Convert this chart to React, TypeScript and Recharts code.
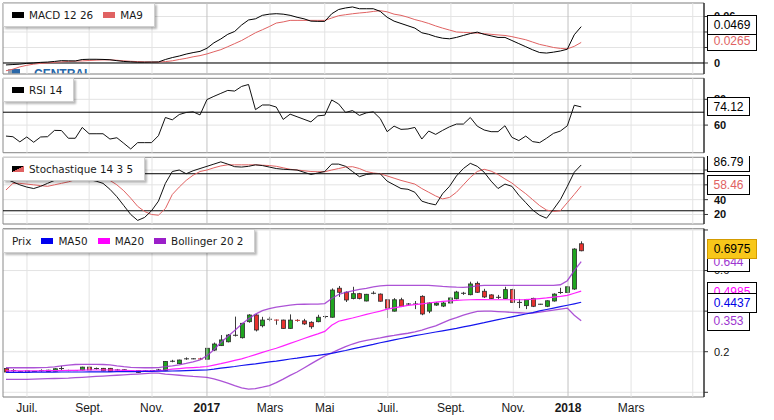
import React from 'react';
import { ComposedChart, Line, Bar, XAxis, YAxis, ReferenceLine, ReferenceArea, CartesianGrid } from 'recharts';

const FONT = '"Liberation Sans", Arial, Helvetica, sans-serif';
const LEGEND_FONT = '"DejaVu Sans", Verdana, sans-serif';
const CHART_W = 774;
const AXIS_W = 70;

// weekly candles, x = week number (0 .. 83)
const weekIndex: number[] = Array.from({ length: 84 }, (_, i) => i);

// month ticks (in week units) and their labels
const monthTicks = [3.03, 12.0, 21.07, 29.0, 38.1, 46.0, 55.1, 64.2, 73.2, 81.1, 90.2, 99.1];
const monthLabels = ['Juil.', 'Sept.', 'Nov.', '2017', 'Mars', 'Mai', 'Juil.', 'Sept.', 'Nov.', '2018', 'Mars', ''];
const yearTicks = [29.0, 81.1];
const xDomain: [number, number] = [-0.43, 100.72];

// ---- MACD 12 26 / MA9
const macdLine = [
  -0.0025, -0.002, -0.0015, -0.0005, 0, 0.0008, 0.0012, 0.002, 0.003, 0.0028,
  0.0026, 0.0045, 0.0048, 0.0048, 0.0046, 0.0042, 0.003, 0.002, 0.0015, 0.001,
  0.001, 0.0012, 0.0013, 0.0045, 0.007, 0.009, 0.0115, 0.0134, 0.015, 0.019,
  0.026, 0.031, 0.037, 0.0407, 0.049, 0.0555, 0.057, 0.0615, 0.063, 0.0636,
  0.063, 0.0615, 0.059, 0.057, 0.054, 0.0537, 0.0537, 0.0635, 0.069, 0.071,
  0.0723, 0.07, 0.07, 0.07, 0.0666, 0.059, 0.054, 0.051, 0.048, 0.045,
  0.039, 0.037, 0.034, 0.032, 0.0312, 0.033, 0.0355, 0.038, 0.0398, 0.037,
  0.035, 0.033, 0.033, 0.029, 0.025, 0.021, 0.017, 0.0135, 0.0128, 0.014,
  0.0155, 0.0178, 0.0364, 0.0469,
];
const macdSignal = [
  -0.01, -0.008, -0.005, -0.003, -0.0015, -0.0005, 0, 0.0008, 0.0015, 0.002,
  0.0024, 0.0027, 0.0032, 0.0037, 0.004, 0.004, 0.0035, 0.0028, 0.0022, 0.0018,
  0.0015, 0.0013, 0.0013, 0.0018, 0.0028, 0.0045, 0.006, 0.008, 0.0095, 0.0117,
  0.0145, 0.0172, 0.021, 0.025, 0.029, 0.034, 0.039, 0.0429, 0.047, 0.0515,
  0.053, 0.055, 0.055, 0.055, 0.055, 0.055, 0.055, 0.058, 0.061, 0.0623,
  0.0635, 0.0645, 0.0653, 0.0665, 0.0675, 0.066, 0.063, 0.0615, 0.059, 0.056,
  0.0537, 0.051, 0.0478, 0.045, 0.0425, 0.04, 0.0395, 0.039, 0.0385, 0.0378,
  0.037, 0.0362, 0.0355, 0.034, 0.032, 0.03, 0.027, 0.024, 0.0221, 0.02,
  0.0188, 0.0182, 0.0215, 0.0265,
];

// ---- RSI 14
const rsi14 = [
  51.5, 51, 47, 50.8, 46.7, 50.8, 51, 55.9, 55.8, 49.8,
  49.8, 58.2, 53.3, 53.3, 53.3, 49.2, 50.2, 45.9, 41.5, 46.4,
  46.4, 46.4, 51.8, 65.9, 64.1, 68.2, 69.8, 70.3, 67.9, 79.8,
  82.3, 84.6, 86.9, 86.4, 90, 91.5, 72, 75.6, 75.6, 74,
  64.4, 68.5, 66.5, 64.5, 62.5, 67.2, 67.7, 79.5, 76.4, 69.8,
  71.3, 67.5, 69.5, 70.3, 65.1, 54.9, 59.2, 56.7, 57, 58.2,
  49.2, 55.4, 52.8, 55.9, 58.7, 60.8, 60.8, 65.9, 59.2, 56.2,
  54.9, 54.9, 59.5, 50.5, 48, 51.5, 47.2, 46.4, 49.8, 53.6,
  55.4, 59.5, 75.4, 74.12,
];

// ---- Stochastique 14 3 5
const stochK = [
  68, 64, 60, 57, 55, 58, 62, 66, 70, 72,
  70, 68, 67, 65, 62, 54, 44, 32, 20, 12,
  16, 25, 38, 62, 78, 80, 75, 79, 82, 85,
  88, 91, 88, 84.5, 84, 85, 87, 86, 84, 82,
  81, 80.5, 80, 77, 74, 76, 78, 88, 88, 85,
  78, 71, 74, 75, 75, 65, 60, 55, 54, 50,
  38, 35, 33, 48, 58, 72, 82, 89, 85, 77,
  65, 55, 61, 58, 46, 36, 26, 19, 15, 27,
  40, 58, 77, 86.79,
];
const stochD = [
  53, 62, 62, 61, 60, 59, 58, 60, 62, 64,
  67, 69, 70, 70, 70, 66, 60, 52, 42, 31,
  24, 20, 19, 28, 47, 57, 66, 73, 78, 80,
  83, 85.5, 87, 87, 87, 87, 87, 86.5, 86, 85,
  83, 81, 80, 79, 78, 77.7, 77.7, 80, 82, 84,
  84.5, 82, 78, 76, 75, 72, 69, 66, 63.5, 61,
  55, 50, 45, 41, 43, 50, 60, 70, 78, 81,
  78.5, 74, 68, 62.5, 55, 48, 40, 32, 26, 24,
  25, 36, 47, 58.46,
];

// ---- Prix (weekly OHLC)
const opens = [
  0.117, 0.107, 0.101, 0.098, 0.103, 0.107, 0.109, 0.104, 0.117, 0.107,
  0.107, 0.110, 0.124, 0.117, 0.118, 0.118, 0.110, 0.111, 0.104, 0.107,
  0.105, 0.107, 0.110, 0.108, 0.153, 0.141, 0.165, 0.165, 0.166, 0.163,
  0.208, 0.230, 0.249, 0.278, 0.269, 0.348, 0.381, 0.328, 0.360, 0.358,
  0.356, 0.315, 0.356, 0.352, 0.345, 0.348, 0.371, 0.370, 0.513, 0.493,
  0.462, 0.486, 0.450, 0.488, 0.484, 0.456, 0.400, 0.456, 0.435, 0.435,
  0.473, 0.400, 0.430, 0.425, 0.440, 0.461, 0.488, 0.481, 0.537, 0.498,
  0.480, 0.468, 0.462, 0.506, 0.443, 0.427, 0.463, 0.434, 0.424, 0.450,
  0.492, 0.492, 0.509, 0.732,
];
const highs = [
  0.121, 0.114, 0.103, 0.108, 0.105, 0.113, 0.111, 0.118, 0.130, 0.111,
  0.110, 0.126, 0.127, 0.122, 0.120, 0.120, 0.115, 0.113, 0.105, 0.108,
  0.109, 0.110, 0.115, 0.154, 0.160, 0.161, 0.172, 0.168, 0.170, 0.218,
  0.245, 0.282, 0.287, 0.373, 0.342, 0.385, 0.385, 0.372, 0.372, 0.359,
  0.358, 0.384, 0.360, 0.362, 0.350, 0.382, 0.377, 0.512, 0.524, 0.497,
  0.520, 0.490, 0.485, 0.498, 0.487, 0.460, 0.464, 0.466, 0.440, 0.450,
  0.478, 0.445, 0.445, 0.447, 0.470, 0.500, 0.495, 0.545, 0.546, 0.510,
  0.483, 0.480, 0.520, 0.510, 0.460, 0.460, 0.466, 0.436, 0.453, 0.488,
  0.515, 0.523, 0.710, 0.744,
];
const lows = [
  0.097, 0.097, 0.100, 0.097, 0.102, 0.101, 0.101, 0.103, 0.110, 0.104,
  0.105, 0.108, 0.108, 0.112, 0.104, 0.101, 0.106, 0.100, 0.103, 0.096,
  0.102, 0.104, 0.106, 0.106, 0.148, 0.139, 0.160, 0.163, 0.161, 0.162,
  0.203, 0.228, 0.246, 0.275, 0.265, 0.343, 0.300, 0.320, 0.350, 0.333,
  0.313, 0.313, 0.348, 0.332, 0.313, 0.345, 0.365, 0.368, 0.470, 0.445,
  0.458, 0.458, 0.448, 0.483, 0.447, 0.366, 0.398, 0.420, 0.428, 0.410,
  0.380, 0.390, 0.426, 0.420, 0.436, 0.458, 0.480, 0.478, 0.490, 0.465,
  0.460, 0.460, 0.460, 0.440, 0.415, 0.410, 0.420, 0.432, 0.420, 0.447,
  0.485, 0.490, 0.505, 0.695,
];
const closes = [
  0.100, 0.107, 0.101, 0.106, 0.103, 0.107, 0.102, 0.116, 0.117, 0.107,
  0.107, 0.124, 0.110, 0.117, 0.106, 0.103, 0.110, 0.102, 0.104, 0.098,
  0.105, 0.107, 0.110, 0.152, 0.153, 0.159, 0.165, 0.165, 0.163, 0.217,
  0.238, 0.258, 0.282, 0.284, 0.340, 0.381, 0.307, 0.356, 0.360, 0.354,
  0.315, 0.356, 0.353, 0.337, 0.323, 0.370, 0.376, 0.504, 0.493, 0.455,
  0.486, 0.463, 0.483, 0.488, 0.449, 0.415, 0.456, 0.424, 0.435, 0.435,
  0.386, 0.440, 0.440, 0.440, 0.465, 0.494, 0.488, 0.534, 0.493, 0.470,
  0.462, 0.468, 0.506, 0.443, 0.443, 0.456, 0.424, 0.434, 0.451, 0.484,
  0.492, 0.520, 0.706, 0.6975,
];
const ma50 = [
  0.098, 0.098, 0.098, 0.098, 0.099, 0.099, 0.099, 0.099, 0.1, 0.1,
  0.1, 0.1, 0.101, 0.101, 0.101, 0.101, 0.102, 0.102, 0.102, 0.102,
  0.103, 0.103, 0.104, 0.104, 0.105, 0.106, 0.107, 0.108, 0.109, 0.110,
  0.114, 0.119, 0.123, 0.127, 0.132, 0.136, 0.140, 0.145, 0.150, 0.154,
  0.159, 0.164, 0.168, 0.173, 0.178, 0.182, 0.187, 0.192, 0.199, 0.206,
  0.214, 0.221, 0.229, 0.236, 0.244, 0.251, 0.258, 0.265, 0.272, 0.279,
  0.285, 0.291, 0.297, 0.303, 0.309, 0.315, 0.322, 0.329, 0.336, 0.343,
  0.351, 0.358, 0.365, 0.372, 0.379, 0.386, 0.393, 0.401, 0.408, 0.415,
  0.422, 0.429, 0.436, 0.4437,
];
const ma20 = [
  0.106, 0.106, 0.106, 0.106, 0.106, 0.106, 0.107, 0.107, 0.107, 0.108,
  0.108, 0.109, 0.110, 0.110, 0.110, 0.110, 0.109, 0.108, 0.107, 0.106,
  0.106, 0.106, 0.107, 0.110, 0.114, 0.117, 0.120, 0.122, 0.124, 0.127,
  0.134, 0.141, 0.149, 0.157, 0.165, 0.175, 0.186, 0.197, 0.207, 0.217,
  0.229, 0.241, 0.253, 0.265, 0.277, 0.288, 0.300, 0.330, 0.350, 0.358,
  0.366, 0.375, 0.384, 0.392, 0.400, 0.410, 0.416, 0.422, 0.428, 0.432,
  0.436, 0.440, 0.444, 0.448, 0.451, 0.453, 0.455, 0.456, 0.457, 0.457,
  0.456, 0.456, 0.456, 0.456, 0.456, 0.457, 0.459, 0.462, 0.465, 0.469,
  0.473, 0.478, 0.488, 0.4985,
];
const bollUpper = [
  0.121, 0.121, 0.121, 0.121, 0.121, 0.122, 0.123, 0.125, 0.130, 0.134,
  0.137, 0.138, 0.138, 0.138, 0.137, 0.135, 0.130, 0.126, 0.123, 0.122,
  0.121, 0.121, 0.122, 0.126, 0.130, 0.135, 0.142, 0.150, 0.160, 0.180,
  0.210, 0.245, 0.275, 0.305, 0.335, 0.362, 0.385, 0.402, 0.412, 0.420,
  0.425, 0.430, 0.433, 0.434, 0.435, 0.435, 0.437, 0.462, 0.482, 0.492,
  0.500, 0.507, 0.512, 0.520, 0.525, 0.527, 0.527, 0.527, 0.527, 0.527,
  0.527, 0.527, 0.525, 0.522, 0.520, 0.518, 0.517, 0.520, 0.524, 0.527,
  0.527, 0.527, 0.527, 0.527, 0.527, 0.527, 0.527, 0.527, 0.527, 0.527,
  0.530, 0.550, 0.600, 0.644,
];
const bollLower = [
  0.064, 0.064, 0.064, 0.064, 0.065, 0.066, 0.067, 0.068, 0.069, 0.070,
  0.072, 0.074, 0.076, 0.078, 0.080, 0.082, 0.084, 0.086, 0.088, 0.090,
  0.092, 0.094, 0.094, 0.090, 0.087, 0.084, 0.081, 0.078, 0.076, 0.074,
  0.066, 0.056, 0.045, 0.033, 0.022, 0.016, 0.018, 0.025, 0.033, 0.048,
  0.065, 0.083, 0.100, 0.120, 0.140, 0.160, 0.179, 0.194, 0.210, 0.225,
  0.238, 0.248, 0.256, 0.262, 0.268, 0.275, 0.280, 0.286, 0.291, 0.298,
  0.307, 0.317, 0.327, 0.342, 0.357, 0.368, 0.380, 0.390, 0.399, 0.400,
  0.400, 0.398, 0.396, 0.394, 0.392, 0.390, 0.390, 0.395, 0.400, 0.405,
  0.410, 0.415, 0.380, 0.353,
];

// axis ticks / reference levels
const macdTicks = [0, 0.02, 0.04, 0.06];
const macdTickLabels = ['0', '', '', '0.06'];
const rsiTicks = [60, 80];
const rsiTickLabels = ['60', '80'];
const rsiLevels = [70];
const stochTicks = [20, 40, 60, 80];
const stochTickLabels = ['20', '40', '', ''];
const stochLevels = [25, 75];
const priceTicks = [0, 0.2, 0.4, 0.6, 0.8];
const priceTickLabels = ['', '0.2', '', '0.6', ''];

const rows = weekIndex.map((i) => ({
  i,
  open: opens[i], high: highs[i], low: lows[i], close: closes[i],
  macd: macdLine[i], signal: macdSignal[i], rsi: rsi14[i], k: stochK[i], d: stochD[i],
  ma50: ma50[i], ma20: ma20[i], bbUp: bollUpper[i], bbLow: bollLower[i],
}));

const RED = '#e06262';
const PURPLE = '#9d35cf';
const MAGENTA = '#ff22ff';
const BLUE = '#1515ee';

type BoxSpec = { v: number; text: string; color: string; fill?: string; stroke?: string; dy?: number; h?: number };

const textW = (s: string) => s.split('').reduce((a, ch) => a + (ch === '.' ? 3.34 : 6.67), 0);

const valueBoxes = (boxes: BoxSpec[]) =>
  boxes.map((b) => (
    <ReferenceLine
      key={`box-${b.text}`}
      y={b.v}
      stroke="none"
      ifOverflow="visible"
      label={(p: any) => {
        const vb = p.viewBox || {};
        const x = (vb.x ?? 0) + (vb.width ?? 0) + 3.5;
        const cy = (vb.y ?? 0) + (b.dy ?? 0);
        const h = b.h ?? 19;
        const w = Math.round(textW(b.text) + 12);
        const top = Math.round(cy - h / 2) + 0.5;
        return (
          <g>
            <rect x={x} y={top} width={w} height={h} fill={b.fill ?? '#fff'} stroke={b.stroke ?? '#000'} strokeWidth={1} />
            <text x={x + w / 2} y={top + h / 2} dy="0.36em" textAnchor="middle" fontSize={12} fontFamily={FONT} fill={b.color}>
              {b.text}
            </text>
          </g>
        );
      }}
    />
  ));

const monthGrid = () =>
  monthTicks.map((t) => (
    <ReferenceLine key={`vg-${t}`} x={t} stroke={yearTicks.includes(t) ? '#c2c2c2' : '#e3e3e3'} strokeWidth={1} />
  ));

const border = (dom: [number, number]) => (
  <ReferenceArea x1={xDomain[0]} x2={xDomain[1]} y1={dom[0]} y2={dom[1]} fill="none" stroke="#8a8a8a" strokeWidth={1} ifOverflow="visible" />
);

const yAxis = (dom: [number, number], ticks: number[], labels: string[], bold: boolean) => (
  <YAxis
    orientation="right"
    width={AXIS_W}
    type="number"
    domain={dom}
    ticks={ticks}
    interval={0}
    allowDataOverflow
    tickFormatter={(v: number) => {
      const k = ticks.findIndex((t) => Math.abs(t - v) < 1e-9);
      return k >= 0 ? labels[k] : '';
    }}
    axisLine={{ stroke: '#000' }}
    tickLine={{ stroke: '#333' }}
    tickSize={4}
    tickMargin={6}
    tick={{ fontSize: 11, fill: '#111', fontFamily: FONT, fontWeight: bold ? 'bold' : 'normal' }}
  />
);

const hiddenX = <XAxis dataKey="i" type="number" domain={xDomain} ticks={monthTicks} allowDataOverflow hide />;

const Candle = (p: any) => {
  const { x, y, width, height, payload } = p;
  if (!payload || x == null || y == null) return null;
  const yTop = Math.min(y, y + height);
  const yBot = Math.max(y, y + height);
  const span = payload.high - payload.low;
  const k = span > 0 ? (yBot - yTop) / span : 0;
  const py = (v: number) => yTop + (payload.high - v) * k;
  const cx = Math.round(x + width / 2) + 0.5;
  const yo = py(payload.open);
  const yc = py(payload.close);
  const up = payload.close >= payload.open;
  const bt = Math.min(yo, yc);
  const bb = Math.max(yo, yc);
  const doji = bb - bt < 1.3;
  return (
    <g>
      <line x1={cx} x2={cx} y1={yTop} y2={yBot} stroke="#3a3a3a" strokeWidth={1} />
      {doji ? (
        <line x1={cx - 2.5} x2={cx + 2.5} y1={(bt + bb) / 2} y2={(bt + bb) / 2} stroke={up ? '#333' : '#d03030'} strokeWidth={1} />
      ) : (
        <rect x={cx - 2} y={bt} width={4} height={bb - bt} fill={up ? '#1fa51f' : '#e8322e'} stroke="#2d2d2d" strokeWidth={0.8} />
      )}
    </g>
  );
};

const XTick = (p: any) => {
  const { x, y, payload } = p;
  const v = payload?.value;
  const k = monthTicks.findIndex((t) => Math.abs(t - v) < 1e-6);
  const label = k >= 0 ? monthLabels[k] : '';
  const bold = yearTicks.some((t) => Math.abs(t - v) < 1e-6);
  return (
    <text x={x} y={y} dy={14.7} textAnchor="middle" fontSize={12} fontFamily={FONT} fontWeight={bold ? 'bold' : 'normal'} fill="#1a1a1a">
      {label}
    </text>
  );
};

type LegendItem = { label: string; swatch?: string };
const LegendBox = ({ left, top, items }: { left: number; top: number; items: LegendItem[] }) => (
  <div
    style={{
      position: 'absolute', left, top, height: 24, boxSizing: 'border-box', display: 'flex', alignItems: 'center',
      paddingLeft: 8, paddingRight: 11, background: '#fff', border: '1px solid #cfcfcf',
      boxShadow: '2px 2px 2px rgba(0,0,0,0.28)', fontFamily: LEGEND_FONT, fontSize: 10.4, color: '#1a1a1a', whiteSpace: 'nowrap',
    }}
  >
    {items.map((it, k) => (
      <span key={k} style={{ display: 'inline-flex', alignItems: 'center', marginLeft: k === 0 ? 0 : 10 }}>
        {it.swatch ? <span style={{ display: 'inline-block', width: 12, height: 6, background: it.swatch, marginRight: 5 }} /> : null}
        <span>{it.label}</span>
      </span>
    ))}
  </div>
);

// value boxes drawn in a transparent overlay chart sharing the same scales
const BoxOverlay = ({ top, height, margin, dom, boxes }: {
  top: number; height: number; margin: { top: number; right: number; bottom: number; left: number };
  dom: [number, number]; boxes: BoxSpec[];
}) => (
  <div style={{ position: 'absolute', left: 0, top }}>
    <ComposedChart width={CHART_W} height={height} data={rows} margin={margin}>
      {hiddenX}
      <YAxis orientation="right" width={AXIS_W} type="number" domain={dom} allowDataOverflow tick={false} tickLine={false} axisLine={false} />
      {valueBoxes(boxes)}
    </ComposedChart>
  </div>
);

const macdDom: [number, number] = [-0.0142, 0.0774];
const rsiDom: [number, number] = [38.6, 96.3];
const stochDom: [number, number] = [7.15, 97.17];
const priceDom: [number, number] = [-0.0232, 0.8063];

const macdMargin = { top: 3, right: 0, bottom: 4, left: 3 };
const rsiMargin = { top: 2.3, right: 0, bottom: 1.3, left: 3 };
const stochMargin = { top: 1.3, right: 0, bottom: 2, left: 3 };
const priceMargin = { top: 2.7, right: 0, bottom: 0, left: 3 };

export default function App() {
  return (
    <div style={{ position: 'absolute', left: 0, top: 0, width: CHART_W, height: 420, background: '#fff', overflow: 'hidden' }}>
      {/* watermark */}
      <div style={{ position: 'absolute', left: 8, top: 67, height: 7, overflow: 'hidden', display: 'flex', alignItems: 'flex-start' }}>
        <span style={{ display: 'inline-block', width: 12, height: 12, background: '#2b68a8', marginTop: 1.5, marginRight: 14, boxShadow: 'inset 4px 0 0 #9aa7b5' }} />
        <span style={{ fontFamily: FONT, fontWeight: 'bold', fontSize: 12, lineHeight: '12px', color: '#2566a8', marginTop: 1 }}>CENTRAL</span>
      </div>

      {/* MACD */}
      <div style={{ position: 'absolute', left: 0, top: 0 }}>
        <ComposedChart width={CHART_W} height={78} data={rows} margin={macdMargin}>
          {hiddenX}
          {yAxis(macdDom, macdTicks, macdTickLabels, true)}
          <CartesianGrid vertical={false} stroke="#e3e3e3" />
          {monthGrid()}
          <ReferenceLine y={0} stroke="#000" strokeWidth={1} />
          <Line dataKey="signal" type="linear" stroke={RED} strokeWidth={1} dot={false} activeDot={false} isAnimationActive={false} />
          <Line dataKey="macd" type="linear" stroke="#000" strokeWidth={1} dot={false} activeDot={false} isAnimationActive={false} />
          {border(macdDom)}
        </ComposedChart>
      </div>

      {/* RSI */}
      <div style={{ position: 'absolute', left: 0, top: 76 }}>
        <ComposedChart width={CHART_W} height={78} data={rows} margin={rsiMargin}>
          {hiddenX}
          {yAxis(rsiDom, rsiTicks, rsiTickLabels, true)}
          <CartesianGrid vertical={false} stroke="#e3e3e3" />
          {monthGrid()}
          {rsiLevels.map((l) => <ReferenceLine key={`rl${l}`} y={l} stroke="#000" strokeWidth={1} />)}
          <Line dataKey="rsi" type="linear" stroke="#111" strokeWidth={1} dot={false} activeDot={false} isAnimationActive={false} />
          {border(rsiDom)}
        </ComposedChart>
      </div>

      {/* Stochastique */}
      <div style={{ position: 'absolute', left: 0, top: 156 }}>
        <ComposedChart width={CHART_W} height={70} data={rows} margin={stochMargin}>
          {hiddenX}
          {yAxis(stochDom, stochTicks, stochTickLabels, true)}
          <CartesianGrid vertical={false} stroke="#e3e3e3" />
          {monthGrid()}
          {stochLevels.map((l) => <ReferenceLine key={`sl${l}`} y={l} stroke="#000" strokeWidth={1} />)}
          <Line dataKey="d" type="linear" stroke={RED} strokeWidth={1} dot={false} activeDot={false} isAnimationActive={false} />
          <Line dataKey="k" type="linear" stroke="#111" strokeWidth={1} dot={false} activeDot={false} isAnimationActive={false} />
          {border(stochDom)}
        </ComposedChart>
      </div>

      {/* Prix */}
      <div style={{ position: 'absolute', left: 0, top: 226 }}>
        <ComposedChart width={CHART_W} height={194} data={rows} margin={priceMargin}>
          <XAxis
            dataKey="i"
            type="number"
            domain={xDomain}
            ticks={monthTicks}
            interval={0}
            allowDataOverflow
            height={23}
            tickSize={0}
            tickMargin={0}
            tickLine={false}
            axisLine={false}
            tick={(p: any) => <XTick {...p} />}
          />
          {yAxis(priceDom, priceTicks, priceTickLabels, false)}
          <CartesianGrid vertical={false} stroke="#e3e3e3" />
          {monthGrid()}
          <Bar dataKey={(r: any) => [r.low, r.high]} barSize={5} isAnimationActive={false} shape={(p: any) => <Candle {...p} />} />
          <Line dataKey="bbUp" type="linear" stroke={PURPLE} strokeWidth={1.3} strokeOpacity={0.85} dot={false} activeDot={false} isAnimationActive={false} />
          <Line dataKey="bbLow" type="linear" stroke={PURPLE} strokeWidth={1.3} strokeOpacity={0.85} dot={false} activeDot={false} isAnimationActive={false} />
          <Line dataKey="ma20" type="linear" stroke={MAGENTA} strokeWidth={1.2} dot={false} activeDot={false} isAnimationActive={false} />
          <Line dataKey="ma50" type="linear" stroke={BLUE} strokeWidth={1.2} dot={false} activeDot={false} isAnimationActive={false} />
          {border(priceDom)}
        </ComposedChart>
      </div>

      {/* value boxes (on top of the axis labels) */}
      <BoxOverlay
        top={0}
        height={78}
        margin={{ ...macdMargin, right: 0 }}
        dom={macdDom}
        boxes={[
          { v: 0.0265, text: '0.0265', color: RED, dy: -2 },
          { v: 0.0469, text: '0.0469', color: '#000', dy: -2 },
        ]}
      />
      <BoxOverlay top={76} height={78} margin={rsiMargin} dom={rsiDom} boxes={[{ v: 74.12, text: '74.12', color: '#000', dy: -0.7, h: 18 }]} />
      <BoxOverlay
        top={156}
        height={70}
        margin={stochMargin}
        dom={stochDom}
        boxes={[
          { v: 58.46, text: '58.46', color: RED, dy: -1 },
          { v: 86.79, text: '86.79', color: '#000', dy: -3.8 },
        ]}
      />
      <BoxOverlay
        top={226}
        height={194}
        margin={{ ...priceMargin, bottom: 23 }}
        dom={priceDom}
        boxes={[
          { v: 0.644, text: '0.644', color: PURPLE },
          { v: 0.6975, text: '0.6975', color: '#000', fill: '#f8c71a', stroke: '#d39b00', dy: -2 },
          { v: 0.4985, text: '0.4985', color: '#ff00ff' },
          { v: 0.353, text: '0.353', color: PURPLE },
          { v: 0.4437, text: '0.4437', color: '#0000e6' },
        ]}
      />

      {/* legends */}
      <LegendBox left={3} top={3} items={[{ label: 'MACD 12 26', swatch: '#000' }, { label: 'MA9', swatch: RED }]} />
      <LegendBox left={3} top={78} items={[{ label: 'RSI 14', swatch: '#000' }]} />
      <LegendBox
        left={3}
        top={157}
        items={[{ label: 'Stochastique 14 3 5', swatch: `linear-gradient(to bottom right, #000 50%, ${RED} 50%)` }]}
      />
      <LegendBox
        left={3}
        top={229}
        items={[
          { label: 'Prix' },
          { label: 'MA50', swatch: '#0000ee' },
          { label: 'MA20', swatch: '#ff00ff' },
          { label: 'Bollinger 20 2', swatch: '#9b1fc9' },
        ]}
      />
    </div>
  );
}
